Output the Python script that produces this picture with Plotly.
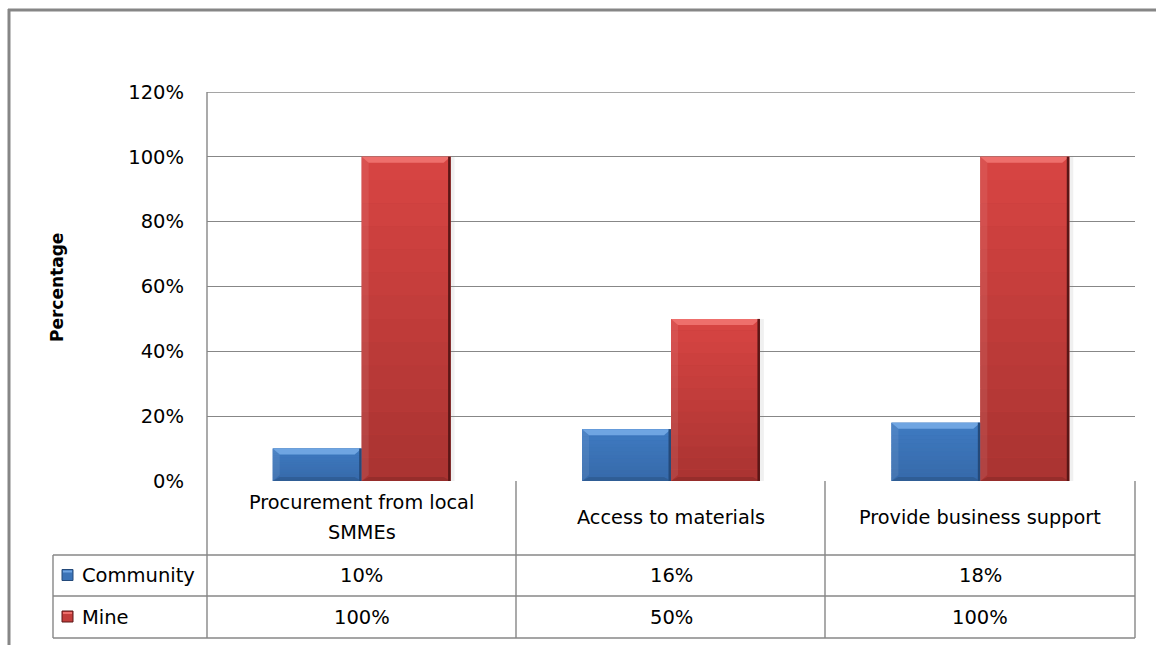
import plotly.graph_objects as go

# ---- data -------------------------------------------------------------
categories = ["Procurement from local SMMEs", "Access to materials", "Provide business support"]
category_labels = ["Procurement from local<br>SMMEs", "Access to materials", "Provide business support"]
series_names = ["Community", "Mine"]
community = [10, 16, 18]
mine = [100, 50, 100]
y_tick_values = [0, 20, 40, 60, 80, 100, 120]
y_tick_labels = ["0%", "20%", "40%", "60%", "80%", "100%", "120%"]

# ---- styling ----------------------------------------------------------
W, H = 1156, 645
PL, PR, PT, PB = 207, 1135, 92, 481          # plot box (pixels)
Y_MAX = 120
FONT = "DejaVu Sans"
GRID = "#878787"
BARGAP = 0.425
COLORS = {"Community": "#3b73b7", "Mine": "#c23d3b"}
TOP_COL = {"Community": "#3f7bc2", "Mine": "#d84543"}
BOT_COL = {"Community": "#3669a9", "Mine": "#a93331"}
BEVEL = {"Community": "#6fa5e2", "Mine": "#ee6f6c"}
EDGES = {"Community": "#244a7a", "Mine": "#5a1616"}

PX_PER_Y = (PB - PT) / Y_MAX
PX_PER_X = (PR - PL) / len(categories)


def px(x):
    return (x - PL) / (PR - PL)


def py(y):
    return (PB - y) / (PB - PT)


def hex_mix(a, b, t):
    a = [int(a[i:i + 2], 16) for i in (1, 3, 5)]
    b = [int(b[i:i + 2], 16) for i in (1, 3, 5)]
    return "#" + "".join(f"{round(a[k] + (b[k] - a[k]) * t):02x}" for k in range(3))


series_values = {"Community": community, "Mine": mine}

fig = go.Figure()
for name in series_names:
    fig.add_trace(go.Bar(
        x=list(range(len(categories))),
        y=series_values[name],
        name=name,
        hovertext=categories,
        marker=dict(color=COLORS[name], line=dict(width=0)),
    ))

shapes = []
annotations = []

# shaded bar faces: vertical gradient, top bevel, darker base and right edge
bar_w = (1 - BARGAP) / len(series_names)
for s, name in enumerate(series_names):
    for i, v in enumerate(series_values[name]):
        x0 = i - (1 - BARGAP) / 2 + s * bar_w
        x1 = x0 + bar_w
        n = 14
        for k in range(n):
            ya = v * (1 - k / n)
            yb = v * (1 - (k + 1) / n)
            shapes.append(dict(type="rect", xref="x", yref="y", x0=x0, x1=x1, y0=yb, y1=ya,
                               fillcolor=hex_mix(TOP_COL[name], BOT_COL[name], (k + 0.5) / n),
                               line=dict(width=0), layer="above"))
        bev = 6 / PX_PER_Y
        ins = 7 / PX_PER_X
        shapes.append(dict(type="path", xref="x", yref="y",
                           path=f"M{x0},{v} L{x1},{v} L{x1 - ins},{v - bev} L{x0 + ins},{v - bev} Z",
                           fillcolor=BEVEL[name], line=dict(width=0), layer="above"))
        shapes.append(dict(type="path", xref="x", yref="y",
                           path=f"M{x0},{v} L{x0 + ins},{v - bev} L{x0 + ins},{bev} L{x0},0 Z",
                           fillcolor="rgba(255,255,255,0.08)", line=dict(width=0), layer="above"))
        base = 4 / PX_PER_Y
        shapes.append(dict(type="path", xref="x", yref="y",
                           path=f"M{x0},0 L{x1},0 L{x1 - ins},{base} L{x0 + ins},{base} Z",
                           fillcolor="rgba(0,0,0,0.12)", line=dict(width=0), layer="above"))
        shapes.append(dict(type="rect", xref="x", yref="y",
                           x0=x1 - 2.5 / PX_PER_X, x1=x1, y0=0, y1=v,
                           fillcolor=EDGES[name], line=dict(width=0), layer="above"))
        shapes.append(dict(type="rect", xref="x", yref="y",
                           x0=x1, x1=x1 + 4 / PX_PER_X, y0=0, y1=v,
                           fillcolor="rgba(0,0,0,0.06)", line=dict(width=0), layer="below"))

# top gridline at the axis maximum
shapes.append(dict(type="line", xref="paper", yref="y", x0=0, x1=1, y0=Y_MAX, y1=Y_MAX,
                   line=dict(color=GRID, width=1.3)))

# outer chart frame (top and left edges visible)
shapes.append(dict(type="line", xref="paper", yref="paper",
                   x0=px(8), x1=px(W + 5), y0=py(10), y1=py(10),
                   line=dict(color="#868686", width=3)))
shapes.append(dict(type="line", xref="paper", yref="paper",
                   x0=px(9), x1=px(9), y0=py(9), y1=py(H + 5),
                   line=dict(color="#868686", width=3)))

# data table beneath the plot
row_edges = [PB, 555, 596, 638]
table_left = 53
col_edges = [PL, 516, 825, PR]
tl = dict(color=GRID, width=1.4)
for yy in row_edges[1:]:
    shapes.append(dict(type="line", xref="paper", yref="paper",
                       x0=px(table_left), x1=px(PR), y0=py(yy), y1=py(yy), line=tl))
shapes.append(dict(type="line", xref="paper", yref="paper",
                   x0=px(table_left), x1=px(table_left), y0=py(row_edges[1]), y1=py(row_edges[3]), line=tl))
for xx in col_edges:
    shapes.append(dict(type="line", xref="paper", yref="paper",
                       x0=px(xx), x1=px(xx), y0=py(PT if xx == PL else PB), y1=py(row_edges[3]), line=tl))

cat_font = dict(family=FONT, size=19.3, color="#000000")
val_font = dict(family=FONT, size=19.5, color="#000000")
# category header cells (each line placed with a 30px line pitch)
header_mid = (row_edges[0] + row_edges[1]) / 2 - 1
for i, lab in enumerate(category_labels):
    lines = lab.split("<br>")
    for j, line in enumerate(lines):
        yline = header_mid + (j - (len(lines) - 1) / 2) * 30
        annotations.append(dict(x=i, xref="x", y=py(yline), yref="paper",
                                text=line, showarrow=False, font=cat_font,
                                xanchor="center", yanchor="middle"))

# value rows with legend keys
for r, name in enumerate(series_names):
    yc = (row_edges[r + 1] + row_edges[r + 2]) / 2
    shapes.append(dict(type="rect", xref="paper", yref="paper",
                       x0=px(62), x1=px(73), y0=py(yc - 6), y1=py(yc + 5),
                       fillcolor=COLORS[name], line=dict(color=EDGES[name], width=1)))
    shapes.append(dict(type="rect", xref="paper", yref="paper",
                       x0=px(63), x1=px(72), y0=py(yc - 5), y1=py(yc - 3),
                       fillcolor=BEVEL[name], line=dict(width=0)))
    annotations.append(dict(x=px(80), xref="paper", y=py(yc), yref="paper",
                            text=name, showarrow=False, font=val_font,
                            xanchor="left", yanchor="middle"))
    for i, v in enumerate(series_values[name]):
        annotations.append(dict(x=i, xref="x", y=py(yc), yref="paper",
                                text=f"{v}%", showarrow=False, font=val_font,
                                xanchor="center", yanchor="middle"))

# y axis title
annotations.append(dict(x=px(57), xref="paper", y=py(288), yref="paper",
                        text="<b>Percentage</b>", textangle=-90, showarrow=False,
                        font=dict(family="DejaVu Sans", size=17, color="#000000"),
                        xanchor="center", yanchor="middle"))

fig.update_layout(
    width=W, height=H,
    margin=dict(l=PL, r=W - PR, t=PT, b=H - PB),
    paper_bgcolor="white", plot_bgcolor="white",
    barmode="group", bargap=BARGAP, bargroupgap=0,
    showlegend=False,
    shapes=shapes, annotations=annotations,
    xaxis=dict(showticklabels=False, showgrid=False, zeroline=False,
               showline=False, ticks="", range=[-0.5, len(categories) - 0.5]),
    yaxis=dict(range=[0, Y_MAX], tickvals=y_tick_values, ticktext=y_tick_labels,
               showgrid=True, gridcolor=GRID, gridwidth=1.3, zeroline=False,
               showline=False, ticks="", ticklabelstandoff=22,
               tickfont=dict(family=FONT, size=19.5, color="#000000")),
)

fig.write_html("out.html")
